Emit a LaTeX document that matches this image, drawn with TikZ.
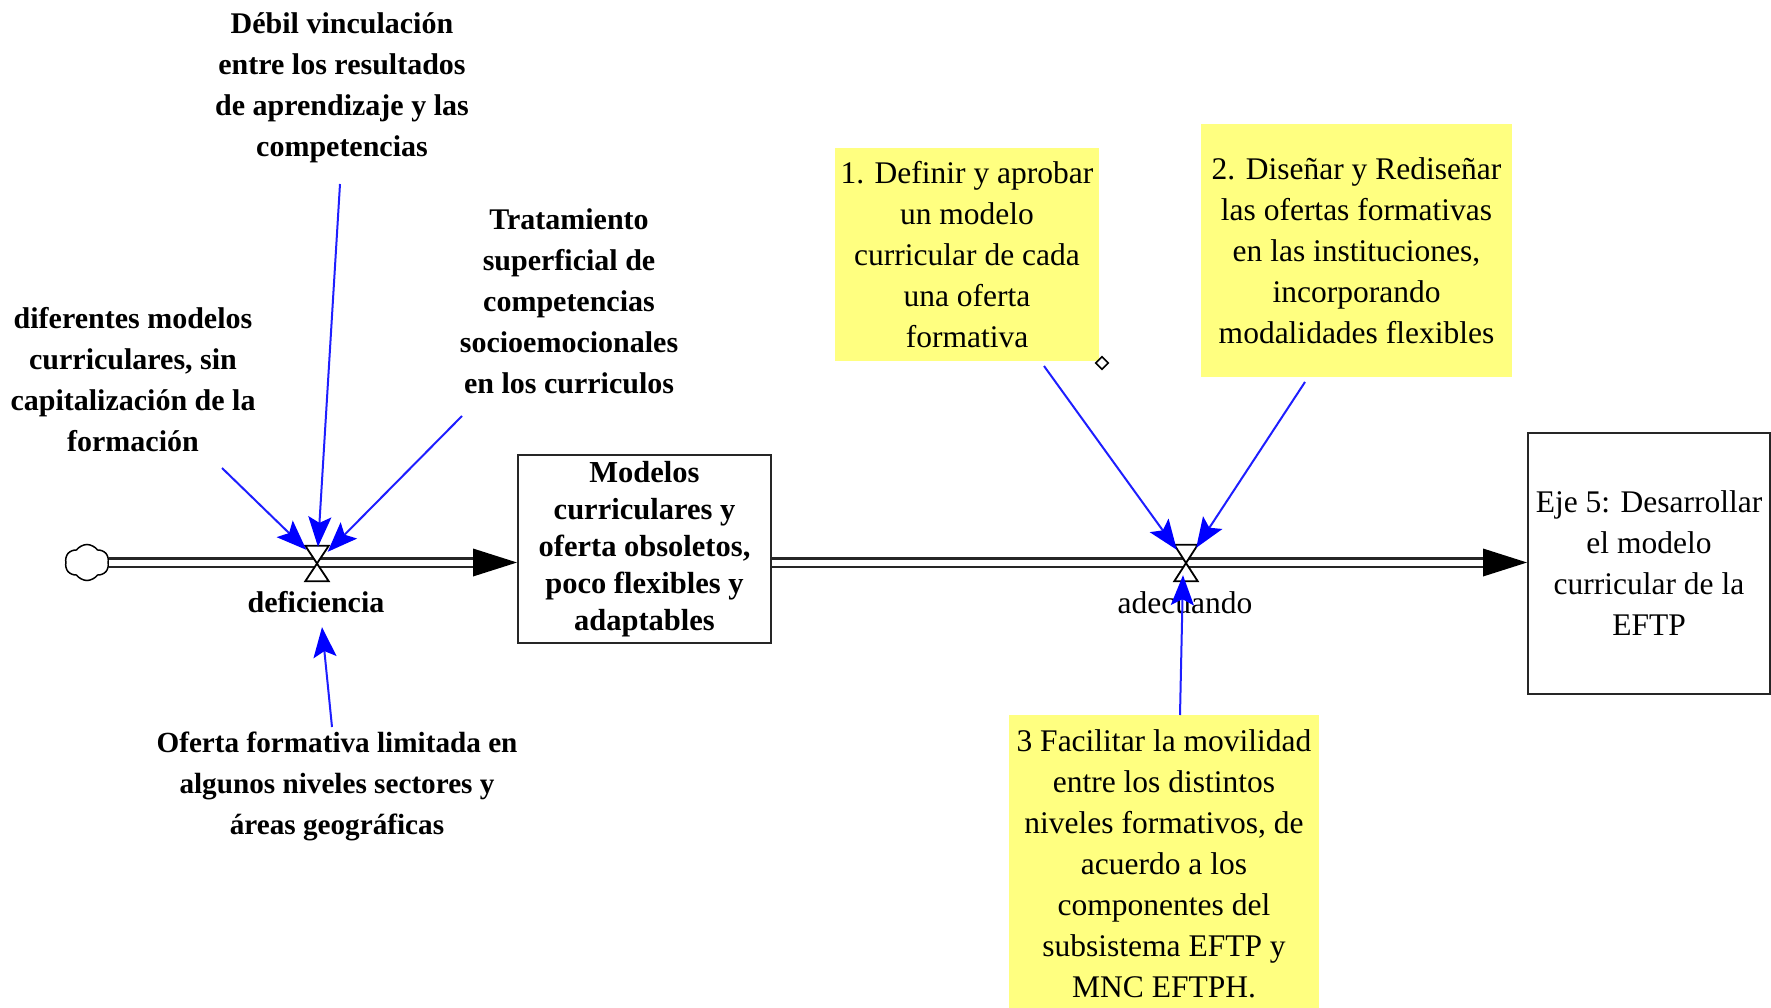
\documentclass[tikz,border=0pt]{standalone}
\usepackage{fontspec}
\setmainfont{Liberation Serif}
\usetikzlibrary{arrows.meta,shapes.geometric,shapes.symbols,calc}
\definecolor{noteyellow}{RGB}{255,255,128}
\definecolor{infblue}{RGB}{30,30,255}
\begin{document}
\begin{tikzpicture}[x=1pt,y=-1pt,
  boldtxt/.style={align=center, font=\fontsize{30}{41}\selectfont\bfseries, inner sep=0pt},
  regtxt/.style={align=center, font=\fontsize{31.5}{41}\selectfont, inner sep=0pt},
  notebox/.style={regtxt, fill=noteyellow},
  pipe/.style={draw=black!85, line width=2.5pt, double=white, double distance=6pt},
  infl/.style={draw=infblue, line width=2pt, -{Stealth[length=30pt,width=23pt,inset=6pt,fill=blue,color=blue]}},
  valveshape/.style={draw=black, line width=1.8pt, fill=white},
  boxline/.style={draw=black!85, line width=2pt},
]
\path[use as bounding box] (0,0) rectangle (1771,1008);

% yellow notes
\node[notebox, minimum width=264pt, minimum height=213pt] (n1) at (967,254.5)
  {1. Definir y aprobar\\un modelo\\curricular de cada\\una oferta\\formativa};
\node[notebox, minimum width=311pt, minimum height=253pt] (n2) at (1356.5,250.5)
  {2. Diseñar y Rediseñar\\las ofertas formativas\\en las instituciones,\\incorporando\\modalidades flexibles};
\node[notebox, minimum width=310pt, minimum height=298pt] (n3) at (1164,864)
  {3 Facilitar la movilidad\\entre los distintos\\niveles formativos, de\\acuerdo a los\\componentes del\\subsistema EFTP y\\MNC EFTPH.};
\node[diamond, draw, line width=1.6pt, minimum size=13pt, inner sep=0pt] (dmd) at (1102,363) {};

% bold cause texts
\node[boldtxt] (debil) at (342,87.5)
  {Débil vinculación\\entre los resultados\\de aprendizaje y las\\competencias};
\node[boldtxt] (trat) at (569,301)
  {Tratamiento\\superficial de\\competencias\\socioemocionales\\en los curriculos};
\node[boldtxt] (difer) at (133,380)
  {diferentes modelos\\curriculares, sin\\capitalización de la\\formación};
\node[boldtxt, font=\fontsize{29.2}{41}\selectfont\bfseries] (ofer) at (337,786)
  {Oferta formativa limitada en\\algunos niveles sectores y\\áreas geográficas};

% stocks
\node[boxline, minimum width=253pt, minimum height=188pt, boldtxt,
      font=\fontsize{30.5}{37}\selectfont\bfseries] (stock) at (644.5,549)
  {Modelos\\curriculares y\\oferta obsoletos,\\poco flexibles y\\adaptables};
\node[boxline, minimum width=242pt, minimum height=261pt, regtxt] (eje) at (1649,563.5)
  {Eje 5: Desarrollar\\el modelo\\curricular de la\\EFTP};

% source cloud
\node[cloud, draw, cloud puffs=6, cloud puff arc=110, aspect=1.25, minimum width=44pt, minimum height=36pt,
      inner sep=0pt, line width=1.5pt] (src) at (87,562.5) {};
\coordinate (py) at (0,562.5);

% pipes
\draw[pipe] (src.east) -- ($(src.east -| stock.west)+(-42,0)$);
\fill[black] (src.east -| stock.west) -- ++(-44,-14) -- ++(0,28) -- cycle;
\draw[pipe] (stock.east |- py) -- ($(py -| eje.west)+(-42,0)$);
\fill[black] (py -| eje.west) -- ++(-44,-14) -- ++(0,28) -- cycle;

% valves
\node[minimum width=23pt, minimum height=35pt, inner sep=0pt] (v1) at (317,563.5) {};
\draw[valveshape] (v1.north west) -- (v1.north east) -- (v1.south west) -- (v1.south east) -- cycle;
\node[minimum width=23pt, minimum height=36pt, inner sep=0pt] (v2) at (1186,563) {};
\draw[valveshape] (v2.north west) -- (v2.north east) -- (v2.south west) -- (v2.south east) -- cycle;

\node[boldtxt] (deflbl) at (316,602) {deficiencia};
\node[regtxt] (adelbl) at (1185,603) {adecuando};

% influence arrows
\coordinate (sDeb) at (340,184);
\coordinate (sTra) at (462,416);
\coordinate (sDif) at (222,468);
\coordinate (sOfe) at (332,727);
\coordinate (sN1) at (1044,366);
\coordinate (sN2) at (1305,382);
\coordinate (sN3) at (1180,715);
\draw[infl] (sDif) -- ($(v1.north west)+(1,4)$);
\draw[infl] (sDeb) -- ($(v1.north)+(1,1)$);
\draw[infl] (sTra) -- ($(v1.north east)+(-1,6)$);
\draw[infl] (sOfe) -- ($(v1.south)+(5,46)$);
\draw[infl] (sN1) -- ($(v2.north west)+(2.5,5)$);
\draw[infl] (sN2) -- ($(v2.north east)+(-1.5,3)$);
\draw[infl] (sN3) -- ($(v2.south)+(-3,-6)$);
\end{tikzpicture}
\end{document}
